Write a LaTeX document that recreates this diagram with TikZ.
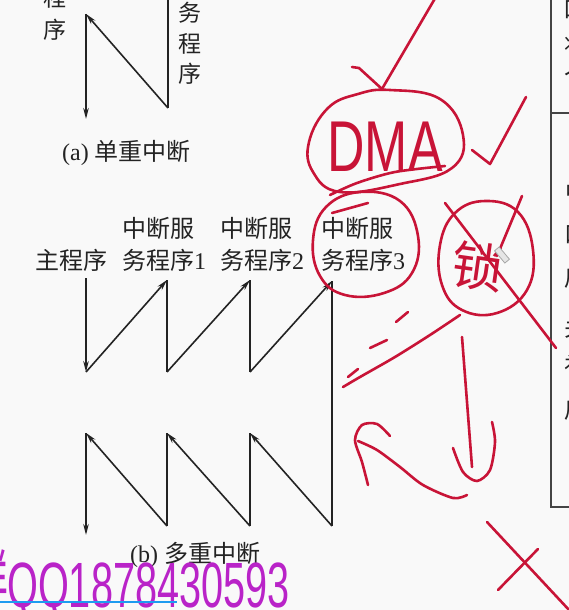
\documentclass[tikz,border=0pt]{standalone}
\usepackage{fontspec}
\setmainfont{Liberation Serif}
\newfontfamily\cjk{Noto Sans CJK SC}
\newfontfamily\wmfont{Liberation Sans}
\usetikzlibrary{arrows.meta}
\definecolor{ink}{RGB}{35,35,35}
\definecolor{pen}{RGB}{200,20,55}
\definecolor{wmc}{RGB}{185,35,200}
\definecolor{barc}{RGB}{30,155,240}
\definecolor{bgc}{RGB}{249,249,249}
\tikzset{
  flow/.style={draw=ink, line width=1.6pt},
  arr/.style={flow, -{Stealth[length=11pt,width=5.5pt]}},
  lbl/.style={text=ink, inner sep=0pt, font=\fontsize{24}{32}\selectfont},
  vlbl/.style={text=ink, inner sep=0pt, font=\cjk\fontsize{23}{23}\selectfont},
  frame/.style={draw=ink!85, line width=1.6pt},
  hand/.style={draw=pen, line width=2.6pt, line cap=round, line join=round},
  handtxt/.style={text=pen, inner sep=0pt},
  frag/.style={text=ink, inner sep=0pt, anchor=west, font=\cjk\fontsize{23}{23}\selectfont},
}
\begin{document}
\begin{tikzpicture}[x=1pt,y=-1pt]
\useasboundingbox (0,0) rectangle (569,610);
\fill[bgc] (0,0) rectangle (569,610);

% ---------- (a) single interrupt ----------
\node[vlbl] (ap1) at (55,-2) {程};
\node[vlbl] (ap2) at (55,30) {序};
\node[vlbl] (as1) at (190,13) {务};
\node[vlbl] (as2) at (190,44) {程};
\node[vlbl] (as3) at (190,74) {序};
\coordinate (a0) at (168,-3);
\coordinate (a1) at (86,14);
\coordinate (a2) at (86,119);
\coordinate (a3) at (168,108);
\draw[flow] (a0) -- (a3);
\draw[arr] (a3) -- (a1);
\draw[arr] (a1) -- (a2);
\node[lbl, anchor=west] (capa) at (62,153) {(a) {\cjk 单重中断}};

% ---------- (b) nested interrupts ----------
\node[lbl, anchor=west] (main) at (35,260) {\cjk 主程序};
\node[lbl, anchor=west, align=left] (s1) at (122,244) {{\cjk 中断服}\\{\cjk 务程序}1};
\node[lbl, anchor=west, align=left] (s2) at (220,244) {{\cjk 中断服}\\{\cjk 务程序}2};
\node[lbl, anchor=west, align=left] (s3) at (321,244) {{\cjk 中断服}\\{\cjk 务程序}3};

\coordinate (m0) at (86,278);
\coordinate (m1) at (86,372);
\coordinate (t1) at (167,280);
\coordinate (b1) at (167,372);
\coordinate (t2) at (250,280);
\coordinate (b2) at (250,372);
\coordinate (t3) at (332,281);
\coordinate (b3) at (332,526);
\coordinate (u2) at (250,433);
\coordinate (d2) at (250,526);
\coordinate (u1) at (167,433);
\coordinate (d1) at (167,526);
\coordinate (u0) at (86,433);
\coordinate (e0) at (86,535);

\draw[arr] (m0) -- (m1);
\draw[arr] (m1) -- (t1);
\draw[flow] (t1) -- (b1);
\draw[arr] (b1) -- (t2);
\draw[flow] (t2) -- (b2);
\draw[arr] (b2) -- (t3);
\draw[flow] (t3) -- (b3);
\draw[arr] (b3) -- (u2);
\draw[flow] (u2) -- (d2);
\draw[arr] (d2) -- (u1);
\draw[flow] (u1) -- (d1);
\draw[arr] (d1) -- (u0);
\draw[arr] (u0) -- (e0);

\node[lbl, anchor=west] (capb) at (130,555) {(b) {\cjk 多重中断}};

% ---------- right frame ----------
\draw[frame] (551,-3) -- (551,507) -- (572,507);
\draw[frame] (551,113) -- (572,113);
\node[frag] (f1) at (563,10) {口};
\node[frag] (f2) at (564,45) {将};
\node[frag] (f3) at (564,76) {个};
\node[frag] (f4) at (565,192) {中};
\node[frag] (f5) at (564,235) {口};
\node[frag] (f6) at (564,278) {后};
\node[frag] (f7) at (564,328) {关};
\node[frag] (f8) at (564,366) {礼};
\node[frag] (f9) at (564,410) {后};

% ---------- red handwriting ----------
\draw[hand] (352,67) -- (359,68) -- (382,89) -- (437,-5);
\draw[hand] plot[smooth cycle, tension=0.7] coordinates
  {(390,90) (440,99) (463,135) (452,168) (400,184) (340,192) (313,172) (309,142) (328,108) (358,94)};
\draw[hand] plot[smooth] coordinates {(330,195) (357,183) (395,172) (445,166)};
\draw[hand] (332,213) -- (368,203);
\node[handtxt, font=\wmfont\fontsize{72}{72}\selectfont] (dma) at (385,147) {\scalebox{0.72}[1]{DMA}};

\draw[hand] (472,150) -- (490,164) -- (526,97);

\draw[hand] plot[smooth cycle, tension=0.7] coordinates
  {(360,192) (400,201) (418,236) (412,273) (384,293) (345,295) (320,276) (313,240) (326,207)};

\draw[hand] plot[smooth cycle, tension=0.7] coordinates
  {(485,201) (518,212) (533,250) (527,290) (497,313) (462,310) (442,285) (440,245) (455,213)};
\node[handtxt, font=\cjk\fontsize{52}{52}\selectfont, rotate=-8] (cuo) at (478,266) {锁};
\draw[hand] (445,203) -- (556,348);
\draw[hand] (522,196) -- (497,256);
\draw[gray!70, fill=gray!20, line width=0.8pt, rotate around={-50:(502,255)}] (494,252) rectangle (510,258);

\draw[hand] (408,312) -- (396,322);
\draw[hand] (387,340) -- (370,348);
\draw[hand] (358,369) -- (348,377);
\draw[hand] plot[smooth] coordinates {(460,315) (430,335) (395,357) (360,377) (343,387)};

\draw[hand] (462,337) -- (472,467);
\draw[hand] plot[smooth] coordinates {(453,448) (463,472) (477,481) (490,470) (495,442) (492,422)};

\draw[hand] plot[smooth] coordinates {(467,495) (453,498) (423,485) (400,467) (377,450) (358,441)};
\draw[hand] plot[smooth] coordinates {(368,485) (362,462) (355,440) (362,425) (377,424) (390,436)};

\draw[hand] (487,522) -- (570,611);
\draw[hand] (538,549) -- (498,590);

% ---------- watermark ----------
\node[inner sep=0pt, anchor=base east, text=wmc, font=\cjk\fontsize{64}{64}\selectfont] (wq) at (8,603) {\scalebox{0.62}[1]{群}};
\node[inner sep=0pt, anchor=base west, text=wmc, font=\wmfont\fontsize{64}{64}\selectfont] (wm) at (7,607) {\scalebox{0.62}[1]{QQ1878430593}};
\draw[barc, line width=2.2pt] (0,602) -- (177,602);
\end{tikzpicture}
\end{document}
